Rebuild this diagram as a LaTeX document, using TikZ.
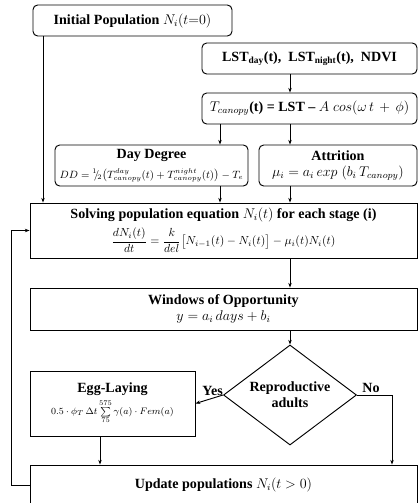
\documentclass[tikz,border=0pt]{standalone}
\usepackage{amsmath}
\usepackage{fontspec}
\setmainfont{Liberation Serif}
\usetikzlibrary{arrows.meta,positioning,shapes.geometric,calc}

\begin{document}
\begin{tikzpicture}[x=0.03cm, y=-0.03cm,
    rbox/.style={draw, thick, rounded corners=4pt, align=center, inner sep=2pt, font=\large\bfseries},
    sbox/.style={draw, thick, align=center, inner sep=2pt, font=\large\bfseries},
    dec/.style={draw, thick, diamond, aspect=1.33, inner sep=0pt, minimum width=3.99cm, minimum height=3cm, align=center, font=\large\bfseries},
    ar/.style={-{Stealth[length=4pt]}, thick},
    yn/.style={font=\large\bfseries, above, inner sep=2pt},
  ]
  \useasboundingbox (0,0) rectangle (418,503);
  \clip (0,0) rectangle (418,503);

  % boxes
  \node[rbox, minimum width=5.97cm, minimum height=0.93cm] (init) at (132.5,20.5) {Initial Population $N_i(t{=}0)$};
  \node[rbox, minimum width=6.45cm, minimum height=0.93cm] (lst) at (309.5,58.5) {LST$_{\text{day}}$(t), \ LST$_{\text{night}}$(t), \ NDVI};
  \node[rbox, minimum width=6.45cm, minimum height=0.93cm] (tcan) at (309.5,108.5) {$T_{canopy}$(t) = LST -- $A\;cos(\omega\,t\,+\,\phi)$};
  \node[rbox, minimum width=5.79cm, minimum height=1.23cm] (dd) at (151.5,165.5)
    {Day Degree\\[3pt] {\mdseries\small $DD={}^{1}\!\!/\!{}_{2}\bigl(T^{day}_{canopy}(t)+T^{night}_{canopy}(t)\bigr)-T_e$}};
  \node[rbox, minimum width=4.74cm, minimum height=1.23cm] (att) at (338,165.5)
    {Attrition\\ {\mdseries $\mu_i=a_i\,exp\;(b_i\,T_{canopy})$}};
  \node[sbox, minimum width=11.61cm, minimum height=1.65cm] (solve) at (223.5,230.5)
    {Solving population equation $N_i(t)$ for each stage (i)\\[4pt]
     {\mdseries\normalsize $\dfrac{dN_i(t)}{dt}=\dfrac{k}{del}\bigl[N_{i-1}(t)-N_i(t)\bigr]-\mu_i(t)N_i(t)$}};
  \node[sbox, minimum width=11.61cm, minimum height=1.26cm] (win) at (223.5,309)
    {Windows of Opportunity\\ {\mdseries $y=a_i\,days+b_i$}};
  \node[dec] (dia) at (290,395) {Reproductive\\adults};
  \node[sbox, minimum width=4.95cm, minimum height=1.95cm] (egg) at (112.5,403.5)
    {Egg-Laying\\[2pt] {\mdseries\footnotesize $0.5\cdot\phi_T\,\Delta t\sum\limits_{75}^{575}\gamma(a)\cdot Fem(a)$}};
  \node[sbox, minimum width=11.61cm, minimum height=1.2cm] (upd) at (223.5,485) {Update populations $N_i(t>0)$};

  % columns for the vertical arrows
  \coordinate (c0) at (43,0);
  \coordinate (c1) at (220,0);
  \coordinate (c2) at (100,0);
  \coordinate (nx) at (392,0);

  % connectors
  \draw[ar] (init.south -| c0) -- (solve.north -| c0);
  \draw[ar] (lst.south -| dia.north) -- (tcan.north -| dia.north);
  \draw[ar] (tcan.south -| c1) -- (dd.north -| c1);
  \draw[ar] (tcan.south -| dia.north) -- (att.north -| dia.north);
  \draw[ar] (dd.south -| c1) -- (solve.north -| c1);
  \draw[ar] (att.south -| dia.north) -- (solve.north -| dia.north);
  \draw[ar] (solve.south -| dia.north) -- (win.north -| dia.north);
  \draw[ar] (win.south -| dia.north) -- (dia.north);
  \draw[ar] (dia.west) -- node[yn, pos=0.38] {Yes} (egg.east);
  \draw[ar] (dia.east) -- node[yn, pos=0.4] {No} (dia.east -| nx) -- (upd.north -| nx);
  \draw[ar] (egg.south -| c2) -- (upd.north -| c2);
  \draw[ar] (upd.west) -- ++(-18,0) |- (solve.west);
\end{tikzpicture}
\end{document}
